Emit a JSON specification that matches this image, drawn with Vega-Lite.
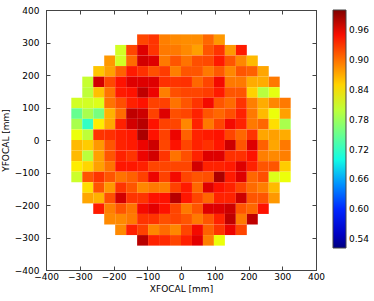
{
  "$schema": "https://vega.github.io/schema/vega-lite/v6.json",
  "width": 270,
  "height": 260,
  "autosize": {"type": "none"},
  "padding": {"left": 46, "top": 10, "right": 58, "bottom": 31},
  "background": "white",
  "config": {
    "font": "DejaVu Sans",
    "view": {"stroke": "#444", "strokeWidth": 1},
    "axis": {
      "labelFont": "DejaVu Sans", "labelFontSize": 9, "labelColor": "#000",
      "titleFont": "DejaVu Sans", "titleFontSize": 9, "titleFontWeight": "normal", "titleColor": "#000",
      "grid": false, "domainColor": "#444", "tickColor": "#444", "tickSize": -4, "labelFlush": false, "labelOverlap": false
    }
  },
  "data": {"values": [
    {"x":-113.75,"y":308.75,"v":0.922},{"x":-81.25,"y":308.75,"v":0.931},{"x":-48.75,"y":308.75,"v":0.893},{"x":-16.25,"y":308.75,"v":0.888},{"x":16.25,"y":308.75,"v":0.886},{"x":48.75,"y":308.75,"v":0.886},{"x":81.25,"y":308.75,"v":0.905},{"x":113.75,"y":308.75,"v":0.880},
    {"x":-178.75,"y":276.25,"v":0.812},{"x":-146.25,"y":276.25,"v":0.922},{"x":-113.75,"y":276.25,"v":0.961},{"x":-81.25,"y":276.25,"v":0.931},{"x":-48.75,"y":276.25,"v":0.896},{"x":-16.25,"y":276.25,"v":0.896},{"x":16.25,"y":276.25,"v":0.888},{"x":48.75,"y":276.25,"v":0.876},{"x":81.25,"y":276.25,"v":0.914},{"x":113.75,"y":276.25,"v":0.931},{"x":146.25,"y":276.25,"v":0.880},{"x":178.75,"y":276.25,"v":0.944},
    {"x":-211.25,"y":243.75,"v":0.880},{"x":-178.75,"y":243.75,"v":0.812},{"x":-146.25,"y":243.75,"v":0.903},{"x":-113.75,"y":243.75,"v":0.966},{"x":-81.25,"y":243.75,"v":0.961},{"x":-48.75,"y":243.75,"v":0.896},{"x":-16.25,"y":243.75,"v":0.914},{"x":16.25,"y":243.75,"v":0.899},{"x":48.75,"y":243.75,"v":0.917},{"x":81.25,"y":243.75,"v":0.920},{"x":113.75,"y":243.75,"v":0.944},{"x":146.25,"y":243.75,"v":0.914},{"x":178.75,"y":243.75,"v":0.889},{"x":211.25,"y":243.75,"v":0.863},
    {"x":-243.75,"y":211.25,"v":0.857},{"x":-211.25,"y":211.25,"v":0.876},{"x":-178.75,"y":211.25,"v":0.908},{"x":-146.25,"y":211.25,"v":0.944},{"x":-113.75,"y":211.25,"v":0.933},{"x":-81.25,"y":211.25,"v":0.917},{"x":-48.75,"y":211.25,"v":0.927},{"x":-16.25,"y":211.25,"v":0.893},{"x":16.25,"y":211.25,"v":0.914},{"x":48.75,"y":211.25,"v":0.914},{"x":81.25,"y":211.25,"v":0.896},{"x":113.75,"y":211.25,"v":0.912},{"x":146.25,"y":211.25,"v":0.889},{"x":178.75,"y":211.25,"v":0.914},{"x":211.25,"y":211.25,"v":0.908},{"x":243.75,"y":211.25,"v":0.873},
    {"x":-276.25,"y":178.75,"v":0.805},{"x":-243.75,"y":178.75,"v":0.966},{"x":-211.25,"y":178.75,"v":0.921},{"x":-178.75,"y":178.75,"v":0.948},{"x":-146.25,"y":178.75,"v":0.961},{"x":-113.75,"y":178.75,"v":0.961},{"x":-81.25,"y":178.75,"v":0.961},{"x":-48.75,"y":178.75,"v":0.933},{"x":-16.25,"y":178.75,"v":0.931},{"x":16.25,"y":178.75,"v":0.933},{"x":48.75,"y":178.75,"v":0.905},{"x":81.25,"y":178.75,"v":0.922},{"x":113.75,"y":178.75,"v":0.952},{"x":146.25,"y":178.75,"v":0.896},{"x":178.75,"y":178.75,"v":0.896},{"x":211.25,"y":178.75,"v":0.870},{"x":243.75,"y":178.75,"v":0.870},{"x":276.25,"y":178.75,"v":0.896},
    {"x":-276.25,"y":146.25,"v":0.800},{"x":-243.75,"y":146.25,"v":0.860},{"x":-211.25,"y":146.25,"v":0.899},{"x":-178.75,"y":146.25,"v":0.944},{"x":-146.25,"y":146.25,"v":0.948},{"x":-113.75,"y":146.25,"v":0.974},{"x":-81.25,"y":146.25,"v":0.955},{"x":-48.75,"y":146.25,"v":0.893},{"x":-16.25,"y":146.25,"v":0.917},{"x":16.25,"y":146.25,"v":0.922},{"x":48.75,"y":146.25,"v":0.922},{"x":81.25,"y":146.25,"v":0.927},{"x":113.75,"y":146.25,"v":0.944},{"x":146.25,"y":146.25,"v":0.914},{"x":178.75,"y":146.25,"v":0.914},{"x":211.25,"y":146.25,"v":0.851},{"x":243.75,"y":146.25,"v":0.796},{"x":276.25,"y":146.25,"v":0.823},
    {"x":-308.75,"y":113.75,"v":0.812},{"x":-276.25,"y":113.75,"v":0.812},{"x":-243.75,"y":113.75,"v":0.818},{"x":-211.25,"y":113.75,"v":0.899},{"x":-178.75,"y":113.75,"v":0.917},{"x":-146.25,"y":113.75,"v":0.941},{"x":-113.75,"y":113.75,"v":0.948},{"x":-81.25,"y":113.75,"v":0.924},{"x":-48.75,"y":113.75,"v":0.924},{"x":-16.25,"y":113.75,"v":0.899},{"x":16.25,"y":113.75,"v":0.914},{"x":48.75,"y":113.75,"v":0.931},{"x":81.25,"y":113.75,"v":0.952},{"x":113.75,"y":113.75,"v":0.914},{"x":146.25,"y":113.75,"v":0.903},{"x":178.75,"y":113.75,"v":0.931},{"x":211.25,"y":113.75,"v":0.893},{"x":243.75,"y":113.75,"v":0.870},{"x":276.25,"y":113.75,"v":0.889},{"x":308.75,"y":113.75,"v":0.896},
    {"x":-308.75,"y":81.25,"v":0.749},{"x":-276.25,"y":81.25,"v":0.788},{"x":-243.75,"y":81.25,"v":0.759},{"x":-211.25,"y":81.25,"v":0.867},{"x":-178.75,"y":81.25,"v":0.903},{"x":-146.25,"y":81.25,"v":0.974},{"x":-113.75,"y":81.25,"v":0.968},{"x":-81.25,"y":81.25,"v":0.924},{"x":-48.75,"y":81.25,"v":0.961},{"x":-16.25,"y":81.25,"v":0.917},{"x":16.25,"y":81.25,"v":0.922},{"x":48.75,"y":81.25,"v":0.940},{"x":81.25,"y":81.25,"v":0.914},{"x":113.75,"y":81.25,"v":0.905},{"x":146.25,"y":81.25,"v":0.917},{"x":178.75,"y":81.25,"v":0.940},{"x":211.25,"y":81.25,"v":0.896},{"x":243.75,"y":81.25,"v":0.863},{"x":276.25,"y":81.25,"v":0.827},{"x":308.75,"y":81.25,"v":0.876},
    {"x":-308.75,"y":48.75,"v":0.788},{"x":-276.25,"y":48.75,"v":0.719},{"x":-243.75,"y":48.75,"v":0.837},{"x":-211.25,"y":48.75,"v":0.872},{"x":-178.75,"y":48.75,"v":0.941},{"x":-146.25,"y":48.75,"v":0.966},{"x":-113.75,"y":48.75,"v":0.977},{"x":-81.25,"y":48.75,"v":0.948},{"x":-48.75,"y":48.75,"v":0.924},{"x":-16.25,"y":48.75,"v":0.922},{"x":16.25,"y":48.75,"v":0.889},{"x":48.75,"y":48.75,"v":0.940},{"x":81.25,"y":48.75,"v":0.896},{"x":113.75,"y":48.75,"v":0.922},{"x":146.25,"y":48.75,"v":0.952},{"x":178.75,"y":48.75,"v":0.940},{"x":211.25,"y":48.75,"v":0.896},{"x":243.75,"y":48.75,"v":0.905},{"x":276.25,"y":48.75,"v":0.845},{"x":308.75,"y":48.75,"v":0.788},
    {"x":-308.75,"y":16.25,"v":0.827},{"x":-276.25,"y":16.25,"v":0.800},{"x":-243.75,"y":16.25,"v":0.931},{"x":-211.25,"y":16.25,"v":0.933},{"x":-178.75,"y":16.25,"v":0.941},{"x":-146.25,"y":16.25,"v":0.945},{"x":-113.75,"y":16.25,"v":0.982},{"x":-81.25,"y":16.25,"v":0.948},{"x":-48.75,"y":16.25,"v":0.924},{"x":-16.25,"y":16.25,"v":0.955},{"x":16.25,"y":16.25,"v":0.908},{"x":48.75,"y":16.25,"v":0.940},{"x":81.25,"y":16.25,"v":0.944},{"x":113.75,"y":16.25,"v":0.948},{"x":146.25,"y":16.25,"v":0.922},{"x":178.75,"y":16.25,"v":0.905},{"x":211.25,"y":16.25,"v":0.931},{"x":243.75,"y":16.25,"v":0.873},{"x":276.25,"y":16.25,"v":0.876},{"x":308.75,"y":16.25,"v":0.870},
    {"x":-308.75,"y":-16.25,"v":0.863},{"x":-276.25,"y":-16.25,"v":0.854},{"x":-243.75,"y":-16.25,"v":0.880},{"x":-211.25,"y":-16.25,"v":0.914},{"x":-178.75,"y":-16.25,"v":0.940},{"x":-146.25,"y":-16.25,"v":0.944},{"x":-113.75,"y":-16.25,"v":0.955},{"x":-81.25,"y":-16.25,"v":0.968},{"x":-48.75,"y":-16.25,"v":0.922},{"x":-16.25,"y":-16.25,"v":0.948},{"x":16.25,"y":-16.25,"v":0.922},{"x":48.75,"y":-16.25,"v":0.940},{"x":81.25,"y":-16.25,"v":0.933},{"x":113.75,"y":-16.25,"v":0.946},{"x":146.25,"y":-16.25,"v":0.968},{"x":178.75,"y":-16.25,"v":0.914},{"x":211.25,"y":-16.25,"v":0.961},{"x":243.75,"y":-16.25,"v":0.908},{"x":276.25,"y":-16.25,"v":0.873},{"x":308.75,"y":-16.25,"v":0.896},
    {"x":-308.75,"y":-48.75,"v":0.863},{"x":-276.25,"y":-48.75,"v":0.798},{"x":-243.75,"y":-48.75,"v":0.876},{"x":-211.25,"y":-48.75,"v":0.914},{"x":-178.75,"y":-48.75,"v":0.940},{"x":-146.25,"y":-48.75,"v":0.931},{"x":-113.75,"y":-48.75,"v":0.955},{"x":-81.25,"y":-48.75,"v":0.966},{"x":-48.75,"y":-48.75,"v":0.931},{"x":-16.25,"y":-48.75,"v":0.899},{"x":16.25,"y":-48.75,"v":0.917},{"x":48.75,"y":-48.75,"v":0.940},{"x":81.25,"y":-48.75,"v":0.961},{"x":113.75,"y":-48.75,"v":0.961},{"x":146.25,"y":-48.75,"v":0.933},{"x":178.75,"y":-48.75,"v":0.933},{"x":211.25,"y":-48.75,"v":0.948},{"x":243.75,"y":-48.75,"v":0.893},{"x":276.25,"y":-48.75,"v":0.888},{"x":308.75,"y":-48.75,"v":0.893},
    {"x":-308.75,"y":-81.25,"v":0.837},{"x":-276.25,"y":-81.25,"v":0.849},{"x":-243.75,"y":-81.25,"v":0.876},{"x":-211.25,"y":-81.25,"v":0.899},{"x":-178.75,"y":-81.25,"v":0.946},{"x":-146.25,"y":-81.25,"v":0.946},{"x":-113.75,"y":-81.25,"v":0.941},{"x":-81.25,"y":-81.25,"v":0.922},{"x":-48.75,"y":-81.25,"v":0.922},{"x":-16.25,"y":-81.25,"v":0.922},{"x":16.25,"y":-81.25,"v":0.922},{"x":48.75,"y":-81.25,"v":0.966},{"x":81.25,"y":-81.25,"v":0.940},{"x":113.75,"y":-81.25,"v":0.940},{"x":146.25,"y":-81.25,"v":0.944},{"x":178.75,"y":-81.25,"v":0.961},{"x":211.25,"y":-81.25,"v":0.940},{"x":243.75,"y":-81.25,"v":0.914},{"x":276.25,"y":-81.25,"v":0.914},{"x":308.75,"y":-81.25,"v":0.854},
    {"x":-308.75,"y":-113.75,"v":0.808},{"x":-276.25,"y":-113.75,"v":0.914},{"x":-243.75,"y":-113.75,"v":0.931},{"x":-211.25,"y":-113.75,"v":0.914},{"x":-178.75,"y":-113.75,"v":0.899},{"x":-146.25,"y":-113.75,"v":0.908},{"x":-113.75,"y":-113.75,"v":0.924},{"x":-81.25,"y":-113.75,"v":0.955},{"x":-48.75,"y":-113.75,"v":0.924},{"x":-16.25,"y":-113.75,"v":0.952},{"x":16.25,"y":-113.75,"v":0.922},{"x":48.75,"y":-113.75,"v":0.914},{"x":81.25,"y":-113.75,"v":0.917},{"x":113.75,"y":-113.75,"v":0.982},{"x":146.25,"y":-113.75,"v":0.944},{"x":178.75,"y":-113.75,"v":0.961},{"x":211.25,"y":-113.75,"v":0.905},{"x":243.75,"y":-113.75,"v":0.917},{"x":276.25,"y":-113.75,"v":0.818},{"x":308.75,"y":-113.75,"v":0.827},
    {"x":-276.25,"y":-146.25,"v":0.845},{"x":-243.75,"y":-146.25,"v":0.914},{"x":-211.25,"y":-146.25,"v":0.880},{"x":-178.75,"y":-146.25,"v":0.931},{"x":-146.25,"y":-146.25,"v":0.914},{"x":-113.75,"y":-146.25,"v":0.889},{"x":-81.25,"y":-146.25,"v":0.896},{"x":-48.75,"y":-146.25,"v":0.893},{"x":-16.25,"y":-146.25,"v":0.924},{"x":16.25,"y":-146.25,"v":0.944},{"x":48.75,"y":-146.25,"v":0.905},{"x":81.25,"y":-146.25,"v":0.961},{"x":113.75,"y":-146.25,"v":0.948},{"x":146.25,"y":-146.25,"v":0.940},{"x":178.75,"y":-146.25,"v":0.922},{"x":211.25,"y":-146.25,"v":0.903},{"x":243.75,"y":-146.25,"v":0.893},{"x":276.25,"y":-146.25,"v":0.863},
    {"x":-276.25,"y":-178.75,"v":0.873},{"x":-243.75,"y":-178.75,"v":0.867},{"x":-211.25,"y":-178.75,"v":0.917},{"x":-178.75,"y":-178.75,"v":0.966},{"x":-146.25,"y":-178.75,"v":0.931},{"x":-113.75,"y":-178.75,"v":0.931},{"x":-81.25,"y":-178.75,"v":0.948},{"x":-48.75,"y":-178.75,"v":0.948},{"x":-16.25,"y":-178.75,"v":0.977},{"x":16.25,"y":-178.75,"v":0.946},{"x":48.75,"y":-178.75,"v":0.922},{"x":81.25,"y":-178.75,"v":0.905},{"x":113.75,"y":-178.75,"v":0.940},{"x":146.25,"y":-178.75,"v":0.940},{"x":178.75,"y":-178.75,"v":0.968},{"x":211.25,"y":-178.75,"v":0.914},{"x":243.75,"y":-178.75,"v":0.914},{"x":276.25,"y":-178.75,"v":0.880},
    {"x":-243.75,"y":-211.25,"v":0.944},{"x":-211.25,"y":-211.25,"v":0.893},{"x":-178.75,"y":-211.25,"v":0.914},{"x":-146.25,"y":-211.25,"v":0.899},{"x":-113.75,"y":-211.25,"v":0.952},{"x":-81.25,"y":-211.25,"v":0.959},{"x":-48.75,"y":-211.25,"v":0.948},{"x":-16.25,"y":-211.25,"v":0.922},{"x":16.25,"y":-211.25,"v":0.896},{"x":48.75,"y":-211.25,"v":0.914},{"x":81.25,"y":-211.25,"v":0.961},{"x":113.75,"y":-211.25,"v":0.961},{"x":146.25,"y":-211.25,"v":0.968},{"x":178.75,"y":-211.25,"v":0.914},{"x":211.25,"y":-211.25,"v":0.905},{"x":243.75,"y":-211.25,"v":0.948},
    {"x":-211.25,"y":-243.75,"v":0.888},{"x":-178.75,"y":-243.75,"v":0.888},{"x":-146.25,"y":-243.75,"v":0.896},{"x":-113.75,"y":-243.75,"v":0.931},{"x":-81.25,"y":-243.75,"v":0.931},{"x":-48.75,"y":-243.75,"v":0.917},{"x":-16.25,"y":-243.75,"v":0.922},{"x":16.25,"y":-243.75,"v":0.914},{"x":48.75,"y":-243.75,"v":0.896},{"x":81.25,"y":-243.75,"v":0.914},{"x":113.75,"y":-243.75,"v":0.940},{"x":146.25,"y":-243.75,"v":0.974},{"x":178.75,"y":-243.75,"v":0.896},{"x":211.25,"y":-243.75,"v":0.974},
    {"x":-178.75,"y":-276.25,"v":0.888},{"x":-146.25,"y":-276.25,"v":0.941},{"x":-113.75,"y":-276.25,"v":0.924},{"x":-81.25,"y":-276.25,"v":0.889},{"x":-48.75,"y":-276.25,"v":0.903},{"x":-16.25,"y":-276.25,"v":0.889},{"x":16.25,"y":-276.25,"v":0.922},{"x":48.75,"y":-276.25,"v":0.952},{"x":81.25,"y":-276.25,"v":0.908},{"x":113.75,"y":-276.25,"v":0.931},{"x":146.25,"y":-276.25,"v":0.955},{"x":178.75,"y":-276.25,"v":0.922},
    {"x":-113.75,"y":-308.75,"v":0.977},{"x":-81.25,"y":-308.75,"v":0.940},{"x":-48.75,"y":-308.75,"v":0.936},{"x":-16.25,"y":-308.75,"v":0.922},{"x":16.25,"y":-308.75,"v":0.941},{"x":48.75,"y":-308.75,"v":0.959},{"x":81.25,"y":-308.75,"v":0.893},{"x":113.75,"y":-308.75,"v":0.827}
  ]},
  "layer": [
    {
      "mark": {"type": "rect", "width": 10.97, "height": 10.5625, "strokeWidth": 0},
      "encoding": {
        "x": {"field": "x", "type": "quantitative", "scale": {"domain": [-400, 400], "nice": false, "zero": false},
              "axis": {"values": [-400,-300,-200,-100,0,100,200,300,400], "title": "XFOCAL [mm]", "labelPadding": 6, "titlePadding": 3}},
        "y": {"field": "y", "type": "quantitative", "scale": {"domain": [-400, 400], "nice": false, "zero": false},
              "axis": {"values": [-400,-300,-200,-100,0,100,200,300,400], "title": "YFOCAL [mm]", "labelPadding": 11, "titlePadding": 4}},
        "color": {"field": "v", "type": "quantitative",
          "scale": {"domain": [0.5225, 0.575, 0.5822, 0.6849, 0.6896, 0.7016, 0.8281, 0.8329, 0.8377, 0.9475, 0.957, 1.0],
                    "range": ["#000080", "#0000ff", "#0000ff", "#00dbff", "#00e5f7", "#15ffe2", "#eeff08", "#f7f500", "#ffec00", "#ff1300", "#e80000", "#800000"],
                    "interpolate": "rgb"},
          "legend": {"title": null, "values": [0.54, 0.6, 0.66, 0.72, 0.78, 0.84, 0.9, 0.96], "format": ".2f",
                     "gradientLength": 238, "gradientThickness": 13, "gradientStrokeColor": "#444", "gradientStrokeWidth": 1,
                     "labelFont": "DejaVu Sans", "labelFontSize": 9, "labelColor": "#000", "labelOffset": 3, "labelOverlap": false,
                     "offset": 16, "direction": "vertical", "orient": "right", "padding": 0}}
      }
    },
    {
      "mark": {"type": "point", "opacity": 0},
      "encoding": {
        "x": {"field": "x", "type": "quantitative", "scale": {"domain": [-400, 400], "nice": false, "zero": false},
              "axis": {"orient": "top", "values": [-400,-300,-200,-100,0,100,200,300,400], "labels": false, "title": null}},
        "y": {"field": "y", "type": "quantitative", "scale": {"domain": [-400, 400], "nice": false, "zero": false},
              "axis": {"orient": "right", "values": [-400,-300,-200,-100,0,100,200,300,400], "labels": false, "title": null}}
      }
    }
  ],
  "resolve": {"axis": {"x": "independent", "y": "independent"}}
}
